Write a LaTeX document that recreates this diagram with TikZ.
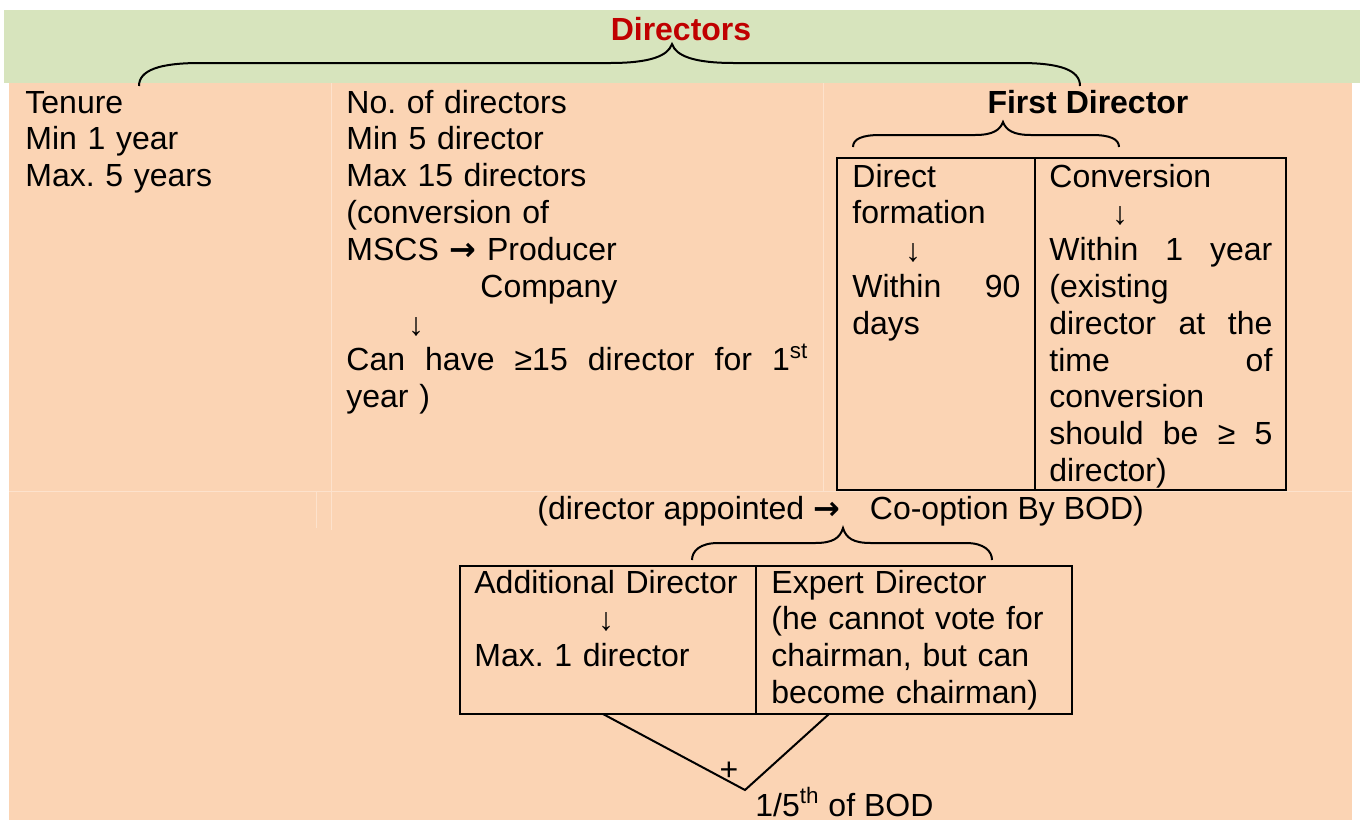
\documentclass[tikz,border=0pt]{standalone}
\usepackage{fontspec}
\setmainfont{Liberation Sans}
\newfontfamily\arrowfont{DejaVu Sans}
\definecolor{bandgreen}{HTML}{D7E4BD}
\definecolor{cellorange}{HTML}{FBD4B4}
\definecolor{faintline}{HTML}{FDE2CC}
\definecolor{titlered}{HTML}{C00000}
\newcommand{\bigto}{{\arrowfont\bfseries\fontsize{16}{16}\selectfont →}}

\begin{document}
\begin{tikzpicture}[x=0.5pt,y=-0.5pt,
    every node/.style={font=\fontsize{16}{18.4}\selectfont\frenchspacing,inner sep=0pt},
    txt/.style={anchor=base west,align=left,text width=#1},
    txt/.default=140pt,
    arr/.style={anchor=base},
    cell/.style={draw,line width=1pt},
    brace/.style={line width=1pt}]
  % page and background bands
  \useasboundingbox[fill=white] (0,0) rectangle (1360,820);
  \fill[bandgreen] (4,10) rectangle (1360,83);
  \fill[cellorange] (9,83) rectangle (1352,820);
  \draw[faintline] (9,491) -- (1352,491);
  \draw[faintline] (331,83) -- (331,530);
  \draw[faintline] (823,83) -- (823,491);
  \draw[faintline] (316,491) -- (316,528);

  % title and main brace
  \node[anchor=base,font=\fontsize{16}{18.4}\selectfont\bfseries,text=titlered] (title) at (681,40) {Directors};
  \draw[brace] (139,86) .. controls (139,70) and (160,63) .. (200,63) -- (610,63)
    .. controls (650,63) and (668,56) .. (672,44)
    .. controls (676,56) and (694,63) .. (734,63) -- (1020,63)
    .. controls (1060,63) and (1080,70) .. (1080,86);

  % tenure
  \node[txt] (tenure) at (25,113) {Tenure\\Min 1 year\\Max. 5 years};

  % number of directors
  \node[txt=240pt] (nodirs) at (346,113) {No. of directors\\Min 5 director\\Max 15 directors\\(conversion of\\MSCS \bigto{} Producer\\\hspace*{67pt}Company\\\mbox{}\\\makebox[231pt][s]{Can\hfill have\hfill ≥15\hfill director\hfill for\hfill 1\textsuperscript{st}}\\year )};
  \node[arr] (nodirsarr) at (416,335) {↓};

  % first director
  \node[anchor=base,font=\fontsize{16}{18.4}\selectfont\bfseries] (firstdir) at (1088,113) {First Director};
  \draw[brace] (853,147) .. controls (853,139) and (862,135) .. (880,135) -- (975,135)
    .. controls (993,135) and (1000,130) .. (1003,122)
    .. controls (1006,130) and (1013,135) .. (1031,135) -- (1092,135)
    .. controls (1110,135) and (1119,139) .. (1119,147);
  \draw[cell] (837,158) rectangle (1286,490);
  \draw[cell] (1035,158) -- (1035,490);
  \node[txt=90pt] (direct) at (852,187) {Direct\\formation\\\mbox{}\\\makebox[84pt][s]{Within\hfill 90}\\days};
  \node[arr] (directarr) at (913,261) {↓};
  \node[txt=115pt] (conv) at (1049,187) {Conversion\\\mbox{}\\\makebox[111.5pt][s]{Within\hfill 1\hfill year}\\(existing\\\makebox[111.5pt][s]{director\hfill at\hfill the}\\\makebox[111.5pt][s]{time\hfill of}\\conversion\\\makebox[111.5pt][s]{should\hfill be\hfill ≥\hfill 5}\\director)};
  \node[arr] (convarr) at (1120,224) {↓};

  % co-option
  \node[anchor=base west] (coopt) at (537,519) {(director appointed \bigto\hspace{15pt}Co-option By BOD)};
  \draw[brace] (692,560) .. controls (692,551) and (700,543) .. (718,543) -- (815,543)
    .. controls (833,543) and (840,538) .. (843,528)
    .. controls (846,538) and (853,543) .. (871,543) -- (966,543)
    .. controls (984,543) and (992,551) .. (992,560);
  \draw[cell] (460,566) rectangle (1072,714);
  \draw[cell] (756,566) -- (756,714);
  \node[txt] (addl) at (474,593) {Additional Director\\\mbox{}\\Max. 1 director};
  \node[arr] (addlarr) at (606,630) {↓};
  \node[txt=150pt] (expert) at (771,593) {Expert Director\\(he cannot vote for\\chairman, but can\\become chairman)};

  % sum of both
  \coordinate (vleft) at (603,714);
  \coordinate (vtip) at (745,790);
  \coordinate (vright) at (829,714);
  \draw[line width=1pt] (vleft) -- (vtip) -- (vright);
  \node (plus) at (729,771) {+};
  \node[anchor=base west] (fifth) at (755,816) {1/5\textsuperscript{th} of BOD};
\end{tikzpicture}
\end{document}
